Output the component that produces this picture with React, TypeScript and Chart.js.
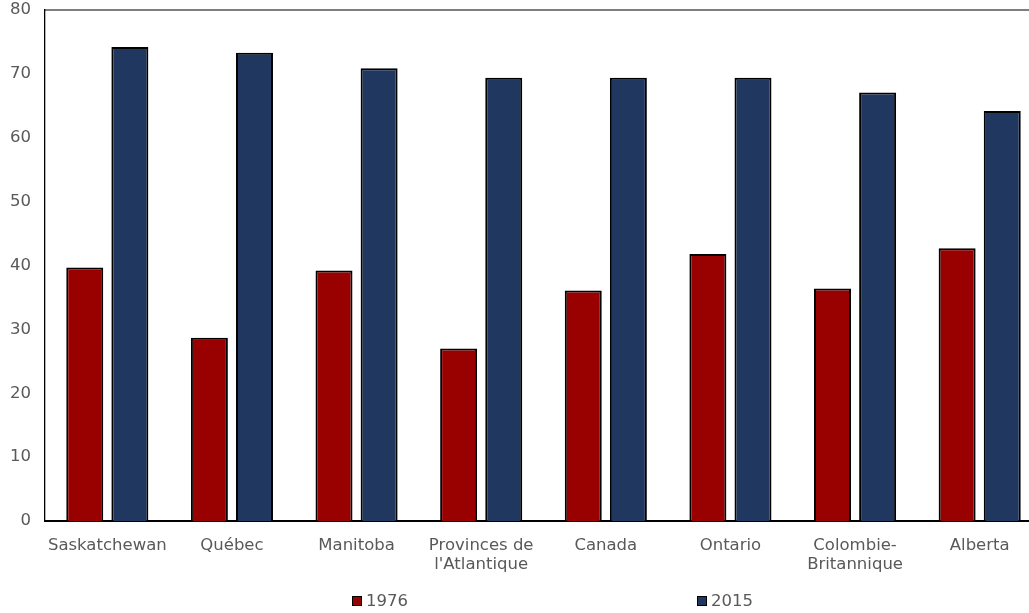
import React, { useEffect, useRef } from 'react';
import { Chart, registerables } from 'chart.js';

Chart.register(...registerables);

// chart data
const categories: (string | string[])[] = [
  'Saskatchewan',
  'Québec',
  'Manitoba',
  ['Provinces de', "l'Atlantique"],
  'Canada',
  'Ontario',
  ['Colombie-', 'Britannique'],
  'Alberta',
];
const seriesNames = ['1976', '2015'];
const values1976 = [39.7, 28.7, 39.2, 27.0, 36.1, 41.8, 36.4, 42.7];
const values2015 = [74.2, 73.3, 70.9, 69.4, 69.4, 69.4, 67.1, 64.2];
const yTicks = [0, 10, 20, 30, 40, 50, 60, 70, 80];

const seriesColors = ['#990000', '#20385f'];
const FONT = '"DejaVu Sans", Verdana, sans-serif';
const TEXT = '#595959';

// top frame line (the reference has a box round the plot)
const frame = {
  id: 'frame',
  afterDraw(chart: Chart) {
    const { ctx, chartArea } = chart;
    ctx.save();
    ctx.strokeStyle = '#000';
    ctx.lineWidth = 1.2;
    ctx.beginPath();
    ctx.moveTo(chartArea.left, chartArea.top);
    ctx.lineTo(chartArea.right, chartArea.top);
    ctx.lineTo(chartArea.right, chartArea.bottom);
    ctx.stroke();
    ctx.restore();
  },
};

const App: React.FC = () => {
  const canvasRef = useRef<HTMLCanvasElement | null>(null);
  const chartInstance = useRef<Chart | null>(null);

  useEffect(() => {
    document.body.style.margin = '0';
    document.body.style.overflow = 'hidden';
    if (!canvasRef.current) return;
    if (chartInstance.current) chartInstance.current.destroy();

    const ctx = canvasRef.current.getContext('2d');
    if (!ctx) return;

    chartInstance.current = new Chart(ctx, {
      type: 'bar',
      data: {
        labels: categories,
        datasets: [
          {
            label: seriesNames[0],
            data: values1976,
            backgroundColor: seriesColors[0],
            borderColor: '#000',
            borderWidth: 2,
          },
          {
            label: seriesNames[1],
            data: values2015,
            backgroundColor: seriesColors[1],
            borderColor: '#000',
            borderWidth: 2,
          },
        ],
      },
      options: {
        responsive: false,
        animation: false,
        devicePixelRatio: 1,
        layout: { padding: 0 },
        datasets: {
          bar: { categoryPercentage: 0.724, barPercentage: 0.82 },
        },
        scales: {
          x: {
            grid: { display: false, drawTicks: false },
            border: { display: true, color: '#000', width: 2 },
            ticks: {
              color: TEXT,
              padding: 15,
              maxRotation: 0,
              autoSkip: false,
              font: { family: FONT, size: 16.5, lineHeight: 1.15 },
            },
            afterFit: (scale: any) => {
              scale.height = 92;
            },
          },
          y: {
            min: 0,
            max: 80,
            afterBuildTicks: (scale: any) => {
              scale.ticks = yTicks.map((v) => ({ value: v }));
            },
            grid: { display: false, drawTicks: false },
            border: { display: true, color: '#000', width: 1.3 },
            ticks: {
              color: TEXT,
              padding: 14,
              font: { family: FONT, size: 16.5 },
            },
            afterFit: (scale: any) => {
              scale.width = 45;
              scale.paddingTop = 10;
              scale.paddingBottom = 0;
            },
          },
        },
        plugins: {
          legend: { display: false },
          tooltip: { enabled: false },
        },
      },
      plugins: [frame],
    });

    return () => {
      if (chartInstance.current) {
        chartInstance.current.destroy();
        chartInstance.current = null;
      }
    };
  }, []);

  return (
    <div style={{ width: 1029, height: 613, overflow: 'hidden', position: 'relative' }}>
      <canvas ref={canvasRef} width={1042} height={613} style={{ display: 'block' }} />
      <div
        style={{
          position: 'absolute',
          left: 352,
          top: 591,
          display: 'flex',
          fontFamily: FONT,
          fontSize: 16.5,
          color: TEXT,
        }}
      >
        {seriesNames.map((name, i) => (
          <div key={name} style={{ width: 345, display: 'flex', alignItems: 'center' }}>
            <span
              style={{
                width: 8,
                height: 8,
                border: '1px solid #000',
                background: seriesColors[i],
                marginRight: 4,
                display: 'inline-block',
              }}
            />
            <span>{name}</span>
          </div>
        ))}
      </div>
    </div>
  );
};

export default App;
